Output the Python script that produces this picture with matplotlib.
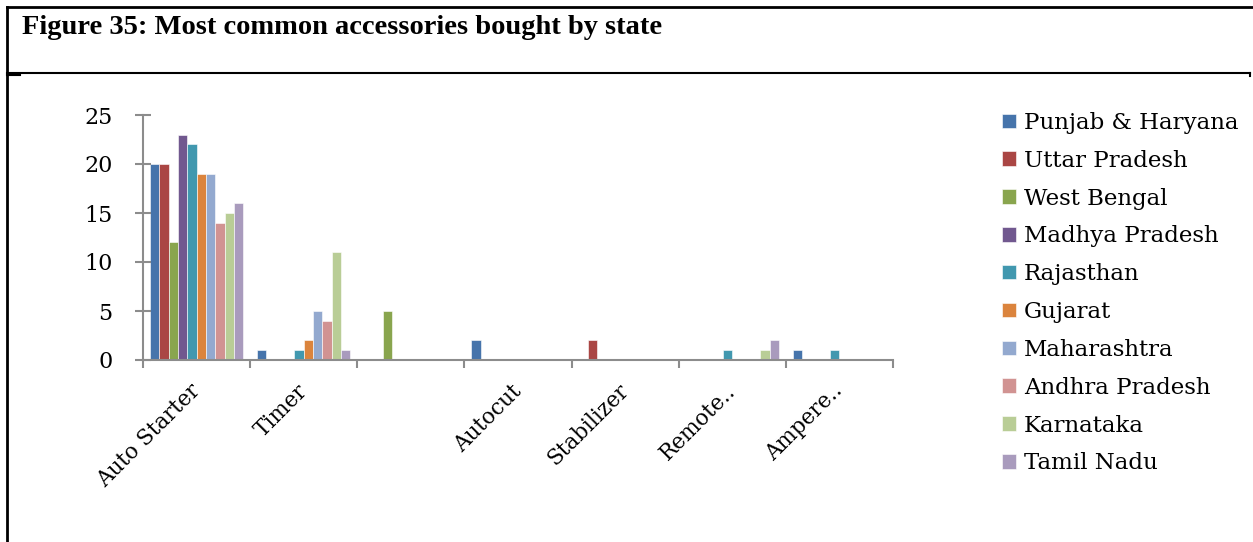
import numpy as np
import matplotlib
matplotlib.use('Agg')
from matplotlib import pyplot as plt
from matplotlib.lines import Line2D

plt.rcParams['font.family'] = ['DejaVu Serif']

categories = ['Auto Starter', 'Timer', '', 'Autocut', 'Stabilizer', 'Remote..', 'Ampere..']
states = ['Punjab & Haryana', 'Uttar Pradesh', 'West Bengal', 'Madhya Pradesh', 'Rajasthan',
          'Gujarat', 'Maharashtra', 'Andhra Pradesh', 'Karnataka', 'Tamil Nadu']
punjab_haryana = [20, 1, 0, 2, 0, 0, 1]
uttar_pradesh = [20, 0, 0, 0, 2, 0, 0]
west_bengal = [12, 0, 5, 0, 0, 0, 0]
madhya_pradesh = [23, 0, 0, 0, 0, 0, 0]
rajasthan = [22, 1, 0, 0, 0, 1, 1]
gujarat = [19, 2, 0, 0, 0, 0, 0]
maharashtra = [19, 5, 0, 0, 0, 0, 0]
andhra_pradesh = [14, 4, 0, 0, 0, 0, 0]
karnataka = [15, 11, 0, 0, 0, 1, 0]
tamil_nadu = [16, 1, 0, 0, 0, 2, 0]
series = [punjab_haryana, uttar_pradesh, west_bengal, madhya_pradesh, rajasthan,
          gujarat, maharashtra, andhra_pradesh, karnataka, tamil_nadu]
colors = ['#4674AB', '#AA4644', '#89A54E', '#71588F', '#4198AF',
          '#DB843D', '#93A9CF', '#D19392', '#B9CD96', '#A99BBD']

W, H = 1253, 542
fig = plt.figure(figsize=(W / 100, H / 100), dpi=100)
ax = fig.add_axes([143 / W, 1 - 360 / H, 750 / W, 245 / H])

x = np.arange(len(categories))
n = len(series)
bw = 1 / (n + 1.5)
for i, vals in enumerate(series):
    ax.bar(x + (i - (n - 1) / 2) * bw, vals, bw, color=colors[i], label=states[i],
           edgecolor='white', linewidth=0.4)

grey = '#8C8C8C'
ax.set_xlim(-0.5, len(categories) - 0.5)
ax.set_ylim(0, 25)
ax.set_yticks(range(0, 26, 5))
ax.set_xticks(np.arange(-0.5, len(categories), 1))
ax.set_xticklabels([])
ax.set_xticks(x, minor=True)
ax.set_xticklabels(categories, minor=True, rotation=45, ha='right', va='center',
                   rotation_mode='anchor')
for s in ['top', 'right']:
    ax.spines[s].set_visible(False)
for s in ['left', 'bottom']:
    ax.spines[s].set_color(grey)
    ax.spines[s].set_linewidth(1.5)
ax.tick_params(axis='y', direction='inout', length=12, width=1.5, color=grey,
               labelsize=16, pad=16)
ax.tick_params(axis='x', which='major', direction='out', length=6, width=1.5, color=grey)
ax.tick_params(axis='x', which='minor', length=0, labelsize=15.5, pad=20)

ax.legend(loc='upper left', bbox_to_anchor=(1002 / W, 1 - 112 / H),
          bbox_transform=fig.transFigure, frameon=False, fontsize=16.5,
          handlelength=0.6, handleheight=0.6, handletextpad=0.35, labelspacing=0.69,
          borderpad=0, borderaxespad=0)

fig.text(22 / W, 1 - 28 / H, 'Figure 35: Most common accessories bought by state',
         fontsize=20.5, fontweight='bold', va='center', ha='left',
         family=['Liberation Serif', 'DejaVu Serif'])

# table borders
fig.add_artist(Line2D([7 / W, 1], [1 - 7 / H, 1 - 7 / H], color='black', lw=2))
fig.add_artist(Line2D([7 / W, 1250 / W], [1 - 73 / H, 1 - 73 / H], color='black', lw=1.5))
fig.add_artist(Line2D([7 / W, 7 / W], [0, 1 - 7 / H], color='black', lw=2))
fig.add_artist(Line2D([1250 / W, 1250 / W], [1 - 73 / H, 1 - 76 / H], color='black', lw=1.5))
fig.add_artist(Line2D([7 / W, 20 / W], [1 - 75 / H, 1 - 75 / H], color='black', lw=1.5))

fig.savefig('out.png', dpi=100)
